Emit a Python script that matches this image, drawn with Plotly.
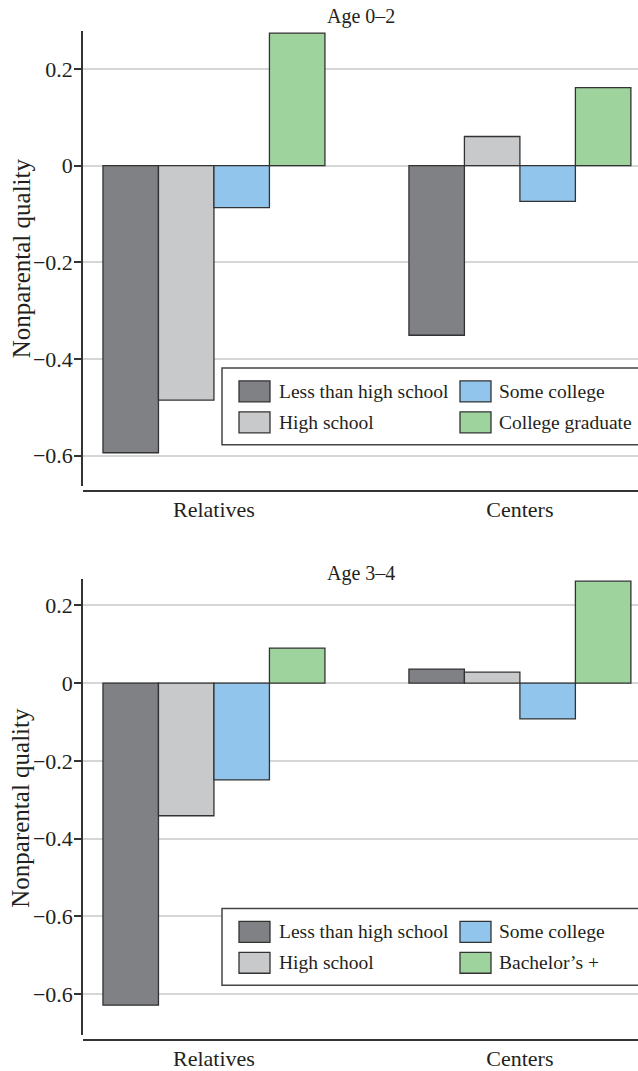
import plotly.graph_objects as go

# ---------------- data ----------------
categories = ["Relatives", "Centers"]

education_top = ["Less than high school", "High school", "Some college", "College graduate"]
education_bottom = ["Less than high school", "High school", "Some college", "Bachelor’s +"]

# Age 0–2 panel
age02_less_hs = [-0.594, -0.351]
age02_high_school = [-0.485, 0.060]
age02_some_college = [-0.087, -0.074]
age02_college_grad = [0.274, 0.161]

# Age 3–4 panel
age34_less_hs = [-0.828, 0.036]
age34_high_school = [-0.341, 0.028]
age34_some_college = [-0.249, -0.092]
age34_bachelors = [0.090, 0.262]

top_tickvals = [0.2, 0, -0.2, -0.4, -0.6]
top_ticktext = ["0.2", "0", "−0.2", "−0.4", "−0.6"]
bottom_tickvals = [0.2, 0, -0.2, -0.4, -0.6, -0.8]
bottom_ticktext = ["0.2", "0", "−0.2", "−0.4", "−0.6", "−0.6"]

panel_titles = ["Age 0–2", "Age 3–4"]
y_title = "Nonparental quality"

# ---------------- style ----------------
colors = ["#808185", "#c8c9cb", "#91c5eb", "#9ed39d"]
EDGE = "#333333"
GRID = "#d6d6d6"
TXT = "#231f20"
FONT = "Liberation Serif, Times New Roman, serif"

W, H = 638, 1071
L = 83
PW = W - L


def px_x(px):
    return (px - L) / PW


def px_y(py):
    return (H - py) / H


fig = go.Figure()

top_series = [age02_less_hs, age02_high_school, age02_some_college, age02_college_grad]
bottom_series = [age34_less_hs, age34_high_school, age34_some_college, age34_bachelors]

for i, (name, vals) in enumerate(zip(education_top, top_series)):
    fig.add_trace(go.Bar(
        x=categories, y=vals, name=name, xaxis="x", yaxis="y",
        marker=dict(color=colors[i], line=dict(color=EDGE, width=1.3)),
        showlegend=False, offsetgroup=str(i),
    ))
for i, (name, vals) in enumerate(zip(education_bottom, bottom_series)):
    fig.add_trace(go.Bar(
        x=categories, y=vals, name=name, xaxis="x2", yaxis="y2",
        marker=dict(color=colors[i], line=dict(color=EDGE, width=1.3)),
        showlegend=False, offsetgroup=str(i),
    ))

xaxis_common = dict(
    domain=[0, 1], anchor="free", range=[-0.428, 1.386],
    showline=True, linecolor=EDGE, linewidth=1.5, ticks="",
    showgrid=False, zeroline=False,
    tickfont=dict(family=FONT, size=22, color=TXT),
    ticklabelstandoff=-1,
)
yaxis_common = dict(
    showgrid=True, gridcolor=GRID, gridwidth=1.5,
    zeroline=True, zerolinecolor=GRID, zerolinewidth=1.5,
    showline=True, linecolor=EDGE, linewidth=1.5,
    ticks="outside", ticklen=7, tickwidth=1.5, tickcolor=EDGE,
    tickfont=dict(family=FONT, size=22, color=TXT),
    ticklabelstandoff=-3,
)

fig.update_layout(
    width=W, height=H,
    margin=dict(l=L, r=0, t=0, b=0),
    paper_bgcolor="white", plot_bgcolor="white",
    barmode="group", bargap=0.2745, bargroupgap=0,
    showlegend=False,
    xaxis=dict(**xaxis_common, position=px_y(492)),
    yaxis=dict(**yaxis_common, domain=[px_y(487), px_y(31.2)], anchor="x",
               range=[-0.662, 0.278], tickvals=top_tickvals, ticktext=top_ticktext),
    xaxis2=dict(**xaxis_common, position=px_y(1043)),
    yaxis2=dict(**yaxis_common, domain=[px_y(1038), px_y(580.5)], anchor="x2",
                range=[-0.905, 0.268], tickvals=bottom_tickvals, ticktext=bottom_ticktext),
)

shapes = []
annotations = []

# panel titles and y-axis titles
for title, ty, yc in zip(panel_titles, [16.5, 575], [259, 810]):
    annotations.append(dict(
        text=title, x=0.5, y=px_y(ty), xref="paper", yref="paper",
        xanchor="center", yanchor="middle", showarrow=False,
        font=dict(family=FONT, size=20, color=TXT),
    ))
    annotations.append(dict(
        text=y_title, x=px_x(21), y=px_y(yc), xref="paper", yref="paper",
        xanchor="center", yanchor="middle", showarrow=False, textangle=-90,
        font=dict(family=FONT, size=25, color=TXT),
    ))

# in-plot legends (two columns, large swatches)
for labels, off in [(education_top, 0), (education_bottom, 542)]:
    shapes.append(dict(
        type="rect", xref="paper", yref="paper", layer="above",
        x0=px_x(222), x1=px_x(660), y0=px_y(369 + off), y1=px_y(446 + off),
        fillcolor="white", line=dict(color="#444444", width=1.5),
    ))
    row_c = [392.5 + off, 423.5 + off]
    sw_x = [239, 460]
    tx_x = [277, 497]
    for i, lab in enumerate(labels):
        col, row = i // 2, i % 2
        yc = row_c[row]
        shapes.append(dict(
            type="rect", xref="paper", yref="paper", layer="above",
            x0=px_x(sw_x[col]), x1=px_x(sw_x[col] + 31),
            y0=px_y(yc + 10.5), y1=px_y(yc - 10.5),
            fillcolor=colors[i], line=dict(color=EDGE, width=1.3),
        ))
        annotations.append(dict(
            text=lab, x=px_x(tx_x[col]), y=px_y(yc), xref="paper", yref="paper",
            xanchor="left", yanchor="middle", showarrow=False,
            font=dict(family=FONT, size=19.5, color=TXT),
        ))

fig.update_layout(shapes=shapes, annotations=annotations)

fig.write_html(
    "out.html",
    config={"displayModeBar": False},
    post_script="document.body.style.margin='0px';document.body.style.overflow='hidden';",
)
